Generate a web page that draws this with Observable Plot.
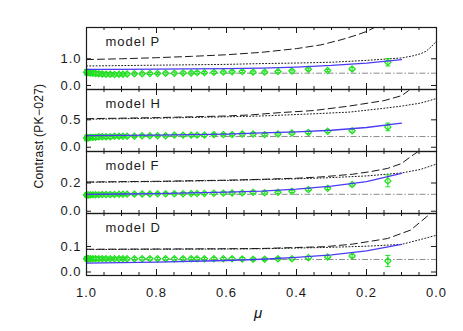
<!DOCTYPE html>
<html><head><meta charset="utf-8">
<script src="https://cdn.jsdelivr.net/npm/d3@7"></script>
<script src="https://cdn.jsdelivr.net/npm/@observablehq/plot@0.6"></script>
<style>
body{margin:0;background:#fff}
#c{position:relative;width:463px;height:331px;font-family:"Liberation Sans",Arial,sans-serif;color:#111}
#c svg{position:absolute;left:0}
.lab{position:absolute;white-space:nowrap}
</style>
</head><body><div id="c"></div>
<script>
// ---------- data ----------
const models = ["model P", "model H", "model F", "model D"];
const yTickVals = [[0, 1.0], [0, 0.5], [0, 0.2], [0, 0.1]];
const yDomains = [[-0.15, 2.17], [-0.078, 1.053], [-0.016, 0.423], [-0.0137, 0.229]];
const xMajor = [1.0, 0.8, 0.6, 0.4, 0.2, 0.0];
const xMinor = [0.95, 0.9, 0.85, 0.75, 0.7, 0.65, 0.55, 0.5, 0.45, 0.35, 0.3, 0.25, 0.15, 0.1, 0.05];

// observed points (green diamonds)
const muPts = [1.0, 0.998, 0.994, 0.989, 0.982, 0.974, 0.965, 0.955, 0.944, 0.932, 0.920, 0.907, 0.896, 0.884,
  0.863, 0.841, 0.819, 0.797, 0.774, 0.749, 0.724, 0.701, 0.684, 0.663, 0.636, 0.609, 0.584, 0.555,
  0.524, 0.491, 0.453, 0.413, 0.366, 0.311, 0.241, 0.139];
const ptsP = [0.50, 0.49, 0.48, 0.47, 0.46, 0.45, 0.44, 0.43, 0.42, 0.42, 0.41, 0.42, 0.42, 0.43,
  0.44, 0.44, 0.45, 0.45, 0.46, 0.46, 0.47, 0.47, 0.48, 0.48, 0.49, 0.50, 0.51, 0.52,
  0.50, 0.50, 0.52, 0.54, 0.61, 0.56, 0.62, 0.87];
const errP = [0.10, 0.10, 0.09, 0.09, 0.08, 0.08, 0.07, 0.07, 0.06, 0.06, 0.05, 0.05, 0.04, 0.04,
  0.04, 0.04, 0.04, 0.04, 0.04, 0.04, 0.04, 0.04, 0.04, 0.04, 0.04, 0.04, 0.04, 0.04,
  0.04, 0.04, 0.04, 0.04, 0.04, 0.04, 0.05, 0.14];
const ptsH = [0.17, 0.17, 0.17, 0.18, 0.18, 0.18, 0.19, 0.19, 0.19, 0.19, 0.20, 0.20, 0.20, 0.20,
  0.20, 0.21, 0.21, 0.21, 0.21, 0.22, 0.22, 0.22, 0.22, 0.22, 0.23, 0.23, 0.23, 0.24,
  0.24, 0.23, 0.24, 0.26, 0.27, 0.29, 0.30, 0.37];
const errH = [0.05, 0.05, 0.045, 0.045, 0.04, 0.04, 0.035, 0.035, 0.03, 0.03, 0.025, 0.025, 0.02, 0.02,
  0.02, 0.02, 0.02, 0.02, 0.02, 0.02, 0.02, 0.02, 0.02, 0.02, 0.02, 0.02, 0.02, 0.02,
  0.02, 0.02, 0.02, 0.02, 0.02, 0.02, 0.025, 0.07];
const ptsF = [0.115, 0.115, 0.115, 0.116, 0.116, 0.117, 0.117, 0.118, 0.118, 0.119, 0.119, 0.120, 0.120, 0.121,
  0.121, 0.122, 0.122, 0.123, 0.123, 0.124, 0.124, 0.125, 0.125, 0.126, 0.127, 0.128, 0.129, 0.130,
  0.134, 0.131, 0.134, 0.141, 0.153, 0.162, 0.189, 0.215];
const errF = [0.014, 0.014, 0.013, 0.013, 0.012, 0.012, 0.011, 0.011, 0.010, 0.010, 0.009, 0.009, 0.008, 0.008,
  0.008, 0.008, 0.008, 0.008, 0.008, 0.008, 0.008, 0.008, 0.008, 0.008, 0.008, 0.008, 0.008, 0.008,
  0.008, 0.008, 0.008, 0.008, 0.008, 0.008, 0.009, 0.042];
const ptsD = [0.052, 0.052, 0.052, 0.052, 0.052, 0.052, 0.052, 0.052, 0.052, 0.052, 0.052, 0.052, 0.052, 0.052,
  0.052, 0.052, 0.052, 0.052, 0.052, 0.052, 0.052, 0.052, 0.052, 0.052, 0.052, 0.052, 0.052, 0.051,
  0.050, 0.050, 0.052, 0.052, 0.056, 0.059, 0.063, 0.043];
const errD = [0.008, 0.008, 0.008, 0.007, 0.007, 0.007, 0.006, 0.006, 0.006, 0.005, 0.005, 0.005, 0.005, 0.005,
  0.005, 0.005, 0.005, 0.005, 0.005, 0.005, 0.005, 0.005, 0.005, 0.005, 0.005, 0.005, 0.005, 0.005,
  0.005, 0.005, 0.005, 0.005, 0.005, 0.005, 0.006, 0.022];

// constant reference levels (dash-dot)
const flatLevels = [0.46, 0.195, 0.12, 0.049];

// dashed model curves
const dashMuP = [1.0, 0.9, 0.8, 0.7, 0.6, 0.5, 0.4, 0.33, 0.27, 0.23, 0.2, 0.17];
const dashP = [0.97, 1.0, 1.04, 1.09, 1.15, 1.24, 1.38, 1.52, 1.72, 1.88, 2.02, 2.22];
const dashMuH = [1.0, 0.8, 0.6, 0.53, 0.45, 0.35, 0.25, 0.15, 0.1, 0.08, 0.07];
const dashH = [0.52, 0.54, 0.57, 0.59, 0.63, 0.67, 0.75, 0.85, 0.94, 1.03, 1.1];
const dashMuF = [1.0, 0.8, 0.6, 0.5, 0.4, 0.33, 0.24, 0.19, 0.14, 0.1, 0.074, 0.046, 0.035];
const dashF = [0.207, 0.212, 0.22, 0.226, 0.234, 0.243, 0.262, 0.28, 0.303, 0.338, 0.386, 0.434, 0.46];
const dashMuD = [1.0, 0.8, 0.6, 0.5, 0.4, 0.32, 0.24, 0.14, 0.074, 0.046, 0.017, 0.005];
const dashD = [0.089, 0.09, 0.091, 0.092, 0.096, 0.099, 0.109, 0.131, 0.164, 0.196, 0.229, 0.25];

// dotted model curves
const dotMuP = [1.0, 0.8, 0.6, 0.5, 0.4, 0.3, 0.2, 0.1, 0.07, 0.045, 0.03, 0.015, 0.0];
const dotP = [0.73, 0.76, 0.79, 0.82, 0.84, 0.87, 0.94, 1.03, 1.10, 1.19, 1.28, 1.45, 1.66];
const dotMuH = [1.0, 0.8, 0.6, 0.5, 0.35, 0.25, 0.15, 0.1, 0.05, 0.02, 0.0];
const dotH = [0.51, 0.53, 0.555, 0.57, 0.61, 0.64, 0.71, 0.75, 0.80, 0.85, 0.89];
const dotMuF = [1.0, 0.8, 0.6, 0.5, 0.4, 0.32, 0.2, 0.1, 0.046, 0.0];
const dotF = [0.205, 0.21, 0.218, 0.224, 0.23, 0.236, 0.25, 0.271, 0.296, 0.334];
const dotMuD = [1.0, 0.8, 0.6, 0.5, 0.32, 0.2, 0.1, 0.046, 0.0];
const dotD = [0.088, 0.089, 0.09, 0.091, 0.096, 0.101, 0.108, 0.127, 0.144];

// blue fitted curves
const blueMu = [1.0, 0.9, 0.8, 0.7, 0.6, 0.5, 0.4, 0.3, 0.2, 0.1];
const blueP = [0.60, 0.60, 0.61, 0.62, 0.63, 0.65, 0.69, 0.75, 0.84, 0.97];
const blueH = [0.21, 0.215, 0.22, 0.23, 0.24, 0.26, 0.28, 0.31, 0.36, 0.44];
const blueF = [0.12, 0.122, 0.125, 0.13, 0.135, 0.143, 0.157, 0.178, 0.21, 0.268];
const blueD = [0.035, 0.037, 0.039, 0.042, 0.045, 0.05, 0.057, 0.067, 0.083, 0.108];

// ---------- drawing ----------
const zip = (xs, ys) => xs.map((x, j) => ({x, y: ys[j]}));
const panels = [
  {pts: ptsP, err: errP, dashMu: dashMuP, dash: dashP, dotMu: dotMuP, dot: dotP, blue: blueP},
  {pts: ptsH, err: errH, dashMu: dashMuH, dash: dashH, dotMu: dotMuH, dot: dotH, blue: blueH},
  {pts: ptsF, err: errF, dashMu: dashMuF, dash: dashF, dotMu: dotMuF, dot: dotF, blue: blueF},
  {pts: ptsD, err: errD, dashMu: dashMuD, dash: dashD, dotMu: dotMuD, dot: dotD, blue: blueD}
];
const panelTops = [27, 89, 151, 213];
const PH = 62, ML = 86, MR = 27, PW = 463 - ML - MR;
const GREEN = "#1fe01f", BLUE = "#4a3cf2", INK = "#1a1a1a";
const capSymbol = {draw(ctx) { ctx.moveTo(-2.5, 0); ctx.lineTo(2.5, 0); }};
const root = document.getElementById("c");

panels.forEach((p, i) => {
  const last = i === 3;
  const mt = 3, mb = last ? 56 : 3;
  const pts = muPts.map((m, j) => ({x: m, y: p.pts[j], lo: p.pts[j] - p.err[j], hi: p.pts[j] + p.err[j]}));
  const marks = [
    Plot.ruleY([flatLevels[i]], {stroke: "#8c8c8c", strokeWidth: 1, strokeDasharray: "6,2,1.5,2"}),
    Plot.line(zip(p.dashMu, p.dash), {x: "x", y: "y", stroke: INK, strokeWidth: 1, strokeDasharray: "7,4", clip: true}),
    Plot.line(zip(p.dotMu, p.dot), {x: "x", y: "y", stroke: INK, strokeWidth: 1, strokeDasharray: "1,2.2", clip: true}),
    Plot.ruleX(pts, {x: "x", y1: "lo", y2: "hi", stroke: GREEN, strokeWidth: 1}),
    Plot.dot(pts, {x: "x", y: "lo", symbol: capSymbol, r: 2.5, stroke: GREEN, strokeWidth: 1}),
    Plot.dot(pts, {x: "x", y: "hi", symbol: capSymbol, r: 2.5, stroke: GREEN, strokeWidth: 1}),
    Plot.dot(pts, {x: "x", y: "y", symbol: "diamond2", r: 2.8, stroke: GREEN, fill: "none", strokeWidth: 1.2}),
    Plot.line(zip(blueMu, p.blue), {x: "x", y: "y", stroke: BLUE, strokeWidth: 1.3}),
    Plot.frame({stroke: INK, strokeWidth: 1.2}),
    Plot.tickX(xMajor, {x: d => d, insetTop: PH - 6, stroke: INK}),
    Plot.tickX(xMajor, {x: d => d, insetBottom: PH - 6, stroke: INK}),
    Plot.tickX(xMinor, {x: d => d, insetTop: PH - 3, stroke: INK}),
    Plot.tickX(xMinor, {x: d => d, insetBottom: PH - 3, stroke: INK}),
    Plot.tickY(yTickVals[i], {y: d => d, insetRight: PW - 5, stroke: INK}),
    Plot.tickY(yTickVals[i], {y: d => d, insetLeft: PW - 5, stroke: INK}),
    Plot.axisY(yTickVals[i], {anchor: "left", tickSize: 0, tickPadding: 5, tickFormat: d3.format(".1f"), fontSize: 13, label: null}),
    Plot.text([models[i]], {frameAnchor: "top-left", dx: 19, dy: 9, textAnchor: "start", fontSize: 13, fill: INK})
  ];
  if (last) marks.push(Plot.axisX(xMajor, {anchor: "bottom", tickSize: 0, tickPadding: 12, tickFormat: d3.format(".1f"), fontSize: 13, label: null}));
  const svg = Plot.plot({
    width: 463, height: PH + mt + mb,
    marginLeft: ML, marginRight: MR, marginTop: mt, marginBottom: mb,
    x: {domain: [1, 0], ...(last ? {} : {axis: null})},
    y: {domain: yDomains[i]},
    style: {background: "transparent", fontFamily: "'Liberation Sans', Arial, sans-serif", letterSpacing: "1px", color: INK, overflow: "visible"},
    marks
  });
  svg.style.top = (panelTops[i] - mt) + "px";
  root.appendChild(svg);
});

const yl = document.createElement("div");
yl.className = "lab";
yl.textContent = "Contrast (PK\u2212027)";
yl.style.cssText = "left:39px;top:136px;font-size:12px;transform:translate(-50%,-50%) rotate(-90deg);letter-spacing:0.3px";
root.appendChild(yl);
const xl = document.createElement("div");
xl.className = "lab";
xl.textContent = "\u03bc";
xl.style.cssText = "left:258px;top:312px;font-size:15px;font-style:italic;transform:translate(-50%,-50%)";
root.appendChild(xl);
</script></body></html>
